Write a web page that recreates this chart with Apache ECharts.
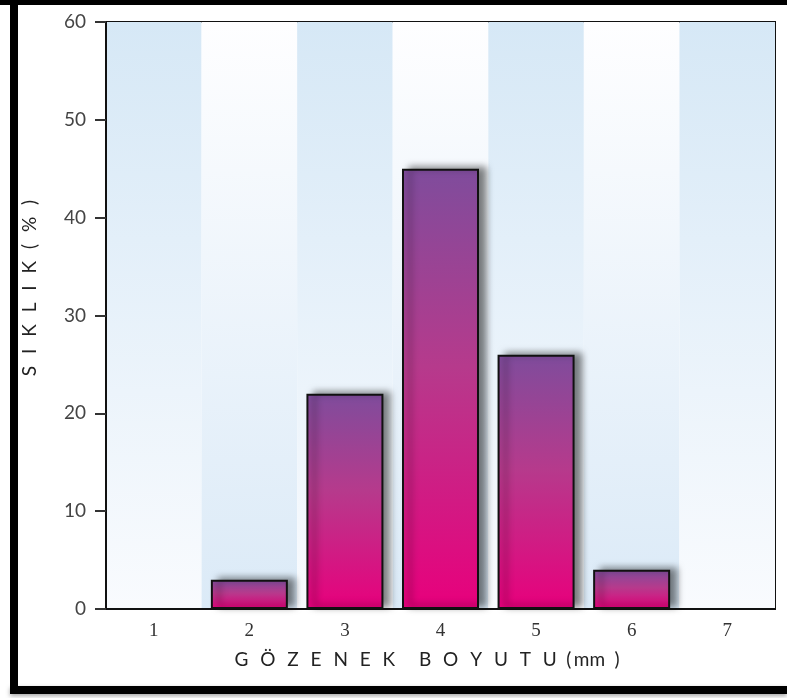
<!DOCTYPE html>
<html>
<head>
<meta charset="utf-8">
<style>
  html, body { margin: 0; padding: 0; background: #ffffff; }
  #chart { width: 787px; height: 698px; }
</style>
<script src="https://cdn.jsdelivr.net/npm/echarts@6/dist/echarts.min.js"></script>
</head>
<body>
<div id="chart"></div>
<script>
// Pore size classes (mm) and their frequency (%)
const categories = ['1', '2', '3', '4', '5', '6', '7'];
const frequency = [0, 3, 22, 45, 26, 4, 0];
const yTicks = { min: 0, max: 60, interval: 10 };

// Tracked (letter-spaced) axis titles
const gap = '\u2002\u2009';
const spaced = (s) => s.split('').join(gap);
const xTitle = spaced('GÖZENEK') + gap + '\u2002\u2009' + spaced('BOYUTU') + '\u2002(\u2009mm\u2002)';
const yTitle = spaced('SIKLIK') + gap + spaced('(%)');

const chart = echarts.init(document.getElementById('chart'));

// Column background gradients: blue at top / blue at bottom alternating
const bandTop = new echarts.graphic.LinearGradient(0, 0, 0, 1, [
  { offset: 0, color: '#d6e8f6' },
  { offset: 1, color: '#f9fbfe' }
]);
const bandBottom = new echarts.graphic.LinearGradient(0, 0, 0, 1, [
  { offset: 0, color: '#fefeff' },
  { offset: 1, color: '#dbeaf7' }
]);

const barFill = new echarts.graphic.LinearGradient(0, 0, 0, 1, [
  { offset: 0, color: '#7f4c9c' },
  { offset: 0.45, color: '#b63a8c' },
  { offset: 1, color: '#e8007c' }
]);

// Empty classes get no outline
const barData = frequency.map(v => (v > 0 ? v : { value: v, itemStyle: { borderWidth: 0, shadowBlur: 0, shadowColor: 'transparent' } }));

const titleStyle = { fontFamily: 'Lato', fontSize: 19, fill: '#222' };

chart.setOption({
  animation: false,
  backgroundColor: '#ffffff',
  grid: {
    left: 106, top: 22, width: 669, height: 587,
    show: true, borderColor: '#111', borderWidth: 2, backgroundColor: 'transparent'
  },
  xAxis: {
    type: 'category',
    data: categories,
    axisLine: { lineStyle: { color: '#111', width: 2 } },
    axisTick: { show: false },
    axisLabel: {
      fontFamily: 'Liberation Serif', fontSize: 19, color: '#333', margin: 13
    },
    splitArea: {
      show: true,
      interval: 0,
      areaStyle: { color: [bandTop, bandBottom] }
    }
  },
  yAxis: {
    type: 'value',
    min: yTicks.min, max: yTicks.max, interval: yTicks.interval,
    axisLine: { show: true, lineStyle: { color: '#111', width: 2 } },
    axisTick: { show: true, length: 11, lineStyle: { color: '#333', width: 2 } },
    axisLabel: { fontFamily: 'Lato', fontSize: 19, color: '#444', margin: 20 },
    splitLine: { show: false }
  },
  series: [{
    type: 'bar',
    data: barData,
    barWidth: 77,
    itemStyle: {
      color: barFill,
      borderColor: '#111',
      borderWidth: 2,
      shadowColor: 'rgba(0,0,0,0.5)',
      shadowBlur: 7,
      shadowOffsetX: 7,
      shadowOffsetY: -2
    },
    z: 3
  }],
  graphic: [
    // axis titles
    {
      type: 'text', x: 427, y: 660,
      style: Object.assign({ text: xTitle, align: 'center', verticalAlign: 'middle' }, titleStyle)
    },
    {
      type: 'text', x: 30, y: 288, rotation: Math.PI / 2,
      style: Object.assign({ text: yTitle, align: 'center', verticalAlign: 'middle' }, titleStyle)
    },
    // outer frame
    { type: 'rect', shape: { x: 0, y: 0, width: 787, height: 5 }, style: { fill: '#000' }, z: 10 },
    { type: 'rect', shape: { x: 10, y: 0, width: 8, height: 694 }, style: { fill: '#000' }, z: 10 },
    {
      type: 'rect', shape: { x: 10, y: 686, width: 777, height: 8 },
      style: { fill: '#000', shadowColor: 'rgba(0,0,0,0.35)', shadowBlur: 4, shadowOffsetY: 2 }, z: 10
    }
  ]
});
</script>
</body>
</html>
